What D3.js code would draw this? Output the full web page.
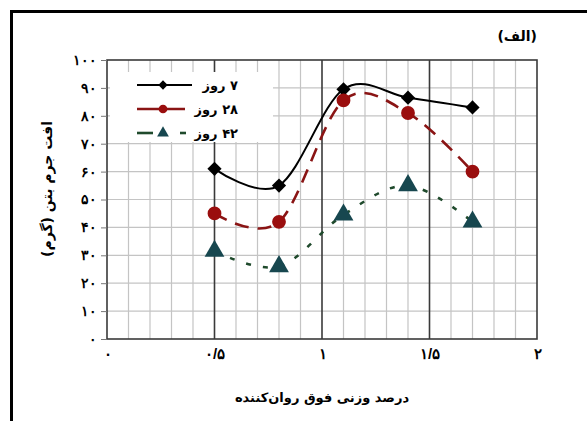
<!DOCTYPE html>
<html>
<head>
<meta charset="utf-8">
<script src="https://cdn.jsdelivr.net/npm/d3@7"></script>
<style>
  html, body { margin: 0; padding: 0; background: #fff; }
  svg { display: block; font-family: "DejaVu Sans", sans-serif; }
</style>
</head>
<body>
<svg id="chart" width="587" height="421"></svg>
<script>
// Superplasticizer dosage (weight %) at which each specimen was tested
const dosage = [0.5, 0.8, 1.1, 1.4, 1.7];
// Concrete mass loss (g) by curing age
const loss7 = [61, 55, 89.5, 86.5, 83];
const loss28 = [45, 42, 85.5, 81, 60];
const loss42 = [31.5, 26, 44.5, 55, 42];
const seriesNames = ["۷ روز", "۲۸ روز", "۴۲ روز"];
const xTicks = [0, 0.5, 1, 1.5, 2];
const yTicks = [0, 10, 20, 30, 40, 50, 60, 70, 80, 90, 100];
const titleText = "(الف)";
const xTitle = "درصد وزنی فوق روان‌کننده";
const yTitle = "افت جرم بتن (گرم)";

const fa = v => String(v).replace(".", "/").replace(/\d/g, d => "۰۱۲۳۴۵۶۷۸۹"[+d]);

const svg = d3.select("#chart");
const L = 107, R = 537, T = 60, B = 339;
const x = d3.scaleLinear().domain([0, 2]).range([L, R]);
const y = d3.scaleLinear().domain([0, 100]).range([B, T]);

// outer frame
svg.append("rect").attr("x", 11.5).attr("y", 11.5).attr("width", 640).attr("height", 480)
  .attr("fill", "none").attr("stroke", "#000").attr("stroke-width", 3);

// minor grid
const minorX = d3.range(1, 20).map(i => i / 10).filter(v => Math.abs(v * 2 - Math.round(v * 2)) > 1e-6);
svg.append("g").selectAll("line").data(minorX).join("line")
  .attr("x1", d => x(d)).attr("x2", d => x(d)).attr("y1", T).attr("y2", B)
  .attr("stroke", "#c4c4c4").attr("stroke-width", 1.2);
svg.append("g").selectAll("line").data(yTicks.slice(1, -1)).join("line")
  .attr("x1", L).attr("x2", R).attr("y1", d => y(d)).attr("y2", d => y(d))
  .attr("stroke", "#c4c4c4").attr("stroke-width", 1.2);
// major verticals
svg.append("g").selectAll("line").data([0.5, 1, 1.5]).join("line")
  .attr("x1", d => x(d)).attr("x2", d => x(d)).attr("y1", T).attr("y2", B)
  .attr("stroke", "#3a3a3a").attr("stroke-width", 1.6);
// plot border
svg.append("rect").attr("x", L).attr("y", T).attr("width", R - L).attr("height", B - T)
  .attr("fill", "none").attr("stroke", "#3a3a3a").attr("stroke-width", 1.6);

// axes
const yAxis = svg.append("g").attr("transform", `translate(${L},0)`)
  .call(d3.axisLeft(y).tickValues(yTicks).tickSize(6).tickPadding(4).tickFormat(fa));
yAxis.select(".domain").remove();
yAxis.selectAll(".tick line").attr("stroke", "#777");
yAxis.selectAll("text").attr("font-size", 14).attr("font-weight", "bold").attr("fill", "#000");

const xAxis = svg.append("g").attr("transform", `translate(0,${B})`)
  .call(d3.axisBottom(x).tickValues(xTicks).tickSize(0).tickPadding(9).tickFormat(fa));
xAxis.select(".domain").remove();
xAxis.selectAll("text").attr("font-size", 15).attr("font-weight", "bold").attr("fill", "#000");

// legend panel
const lg = svg.append("g");
lg.append("rect").attr("x", 110).attr("y", 72).attr("width", 163).attr("height", 70).attr("fill", "#fff");

const line = d3.line().x((d, i) => x(dosage[i])).y(d => y(d)).curve(d3.curveCatmullRom.alpha(0));

const series = [
  { vals: loss7, color: "#000", width: 2, dash: null, marker: "diamond", mcolor: "#000" },
  { vals: loss28, color: "#8a1414", width: 2.6, dash: "14,9", marker: "circle", mcolor: "#9a0e0e" },
  { vals: loss42, color: "#1f4a2c", width: 2.6, dash: "5,12", marker: "triangle", mcolor: "#17474f" }
];

const symSize = { diamond: 140, circle: 150, triangle: 170 };
const symType = { circle: d3.symbolCircle, triangle: d3.symbolTriangle };

function symbolPath(kind, size) {
  if (kind === "diamond") {
    const r = Math.sqrt(size) * 0.6;
    return `M0,${-r}L${r},0L0,${r}L${-r},0Z`;
  }
  return d3.symbol().type(symType[kind]).size(size)();
}

series.forEach(s => {
  svg.append("path").datum(s.vals).attr("d", line)
    .attr("fill", "none").attr("stroke", s.color).attr("stroke-width", s.width)
    .attr("stroke-dasharray", s.dash);
  svg.append("g").selectAll("path").data(s.vals).join("path")
    .attr("transform", (d, i) => `translate(${x(dosage[i])},${y(d)})`)
    .attr("d", symbolPath(s.marker, symSize[s.marker]))
    .attr("fill", s.mcolor);
});

// legend rows
const rowsY = [85, 109, 133];
series.forEach((s, i) => {
  const g = lg.append("g").attr("transform", `translate(0,${rowsY[i]})`);
  if (i === 0) {
    g.append("line").attr("x1", 137).attr("x2", 192).attr("stroke", s.color).attr("stroke-width", 2);
  } else if (i === 1) {
    g.append("line").attr("x1", 137).attr("x2", 185).attr("stroke", s.color).attr("stroke-width", 2.6);
  } else {
    g.append("line").attr("x1", 137).attr("x2", 153).attr("stroke", s.color).attr("stroke-width", 2.6);
    g.append("line").attr("x1", 180).attr("x2", 186).attr("stroke", s.color).attr("stroke-width", 2.6);
  }
  g.append("path").attr("transform", "translate(163,0)")
    .attr("d", symbolPath(s.marker, 60)).attr("fill", s.mcolor);
  g.append("text").attr("x", 238).attr("y", 0).attr("dy", "0.35em")
    .attr("direction", "rtl").attr("text-anchor", "start")
    .attr("font-size", 13).attr("font-weight", "bold").text(seriesNames[i]);
});

// titles
svg.append("text").attr("x", 537).attr("y", 41).attr("direction", "rtl").attr("text-anchor", "start")
  .attr("font-size", 14).attr("font-weight", "bold").text(titleText);
svg.append("text").attr("x", 322).attr("y", 402).attr("direction", "rtl").attr("text-anchor", "middle")
  .attr("font-size", 13).attr("font-weight", "bold").text(xTitle);
svg.append("text").attr("transform", "translate(52,189) rotate(-90)").attr("direction", "rtl")
  .attr("text-anchor", "middle").attr("font-size", 14).attr("font-weight", "bold").text(yTitle);
</script>
</body>
</html>
